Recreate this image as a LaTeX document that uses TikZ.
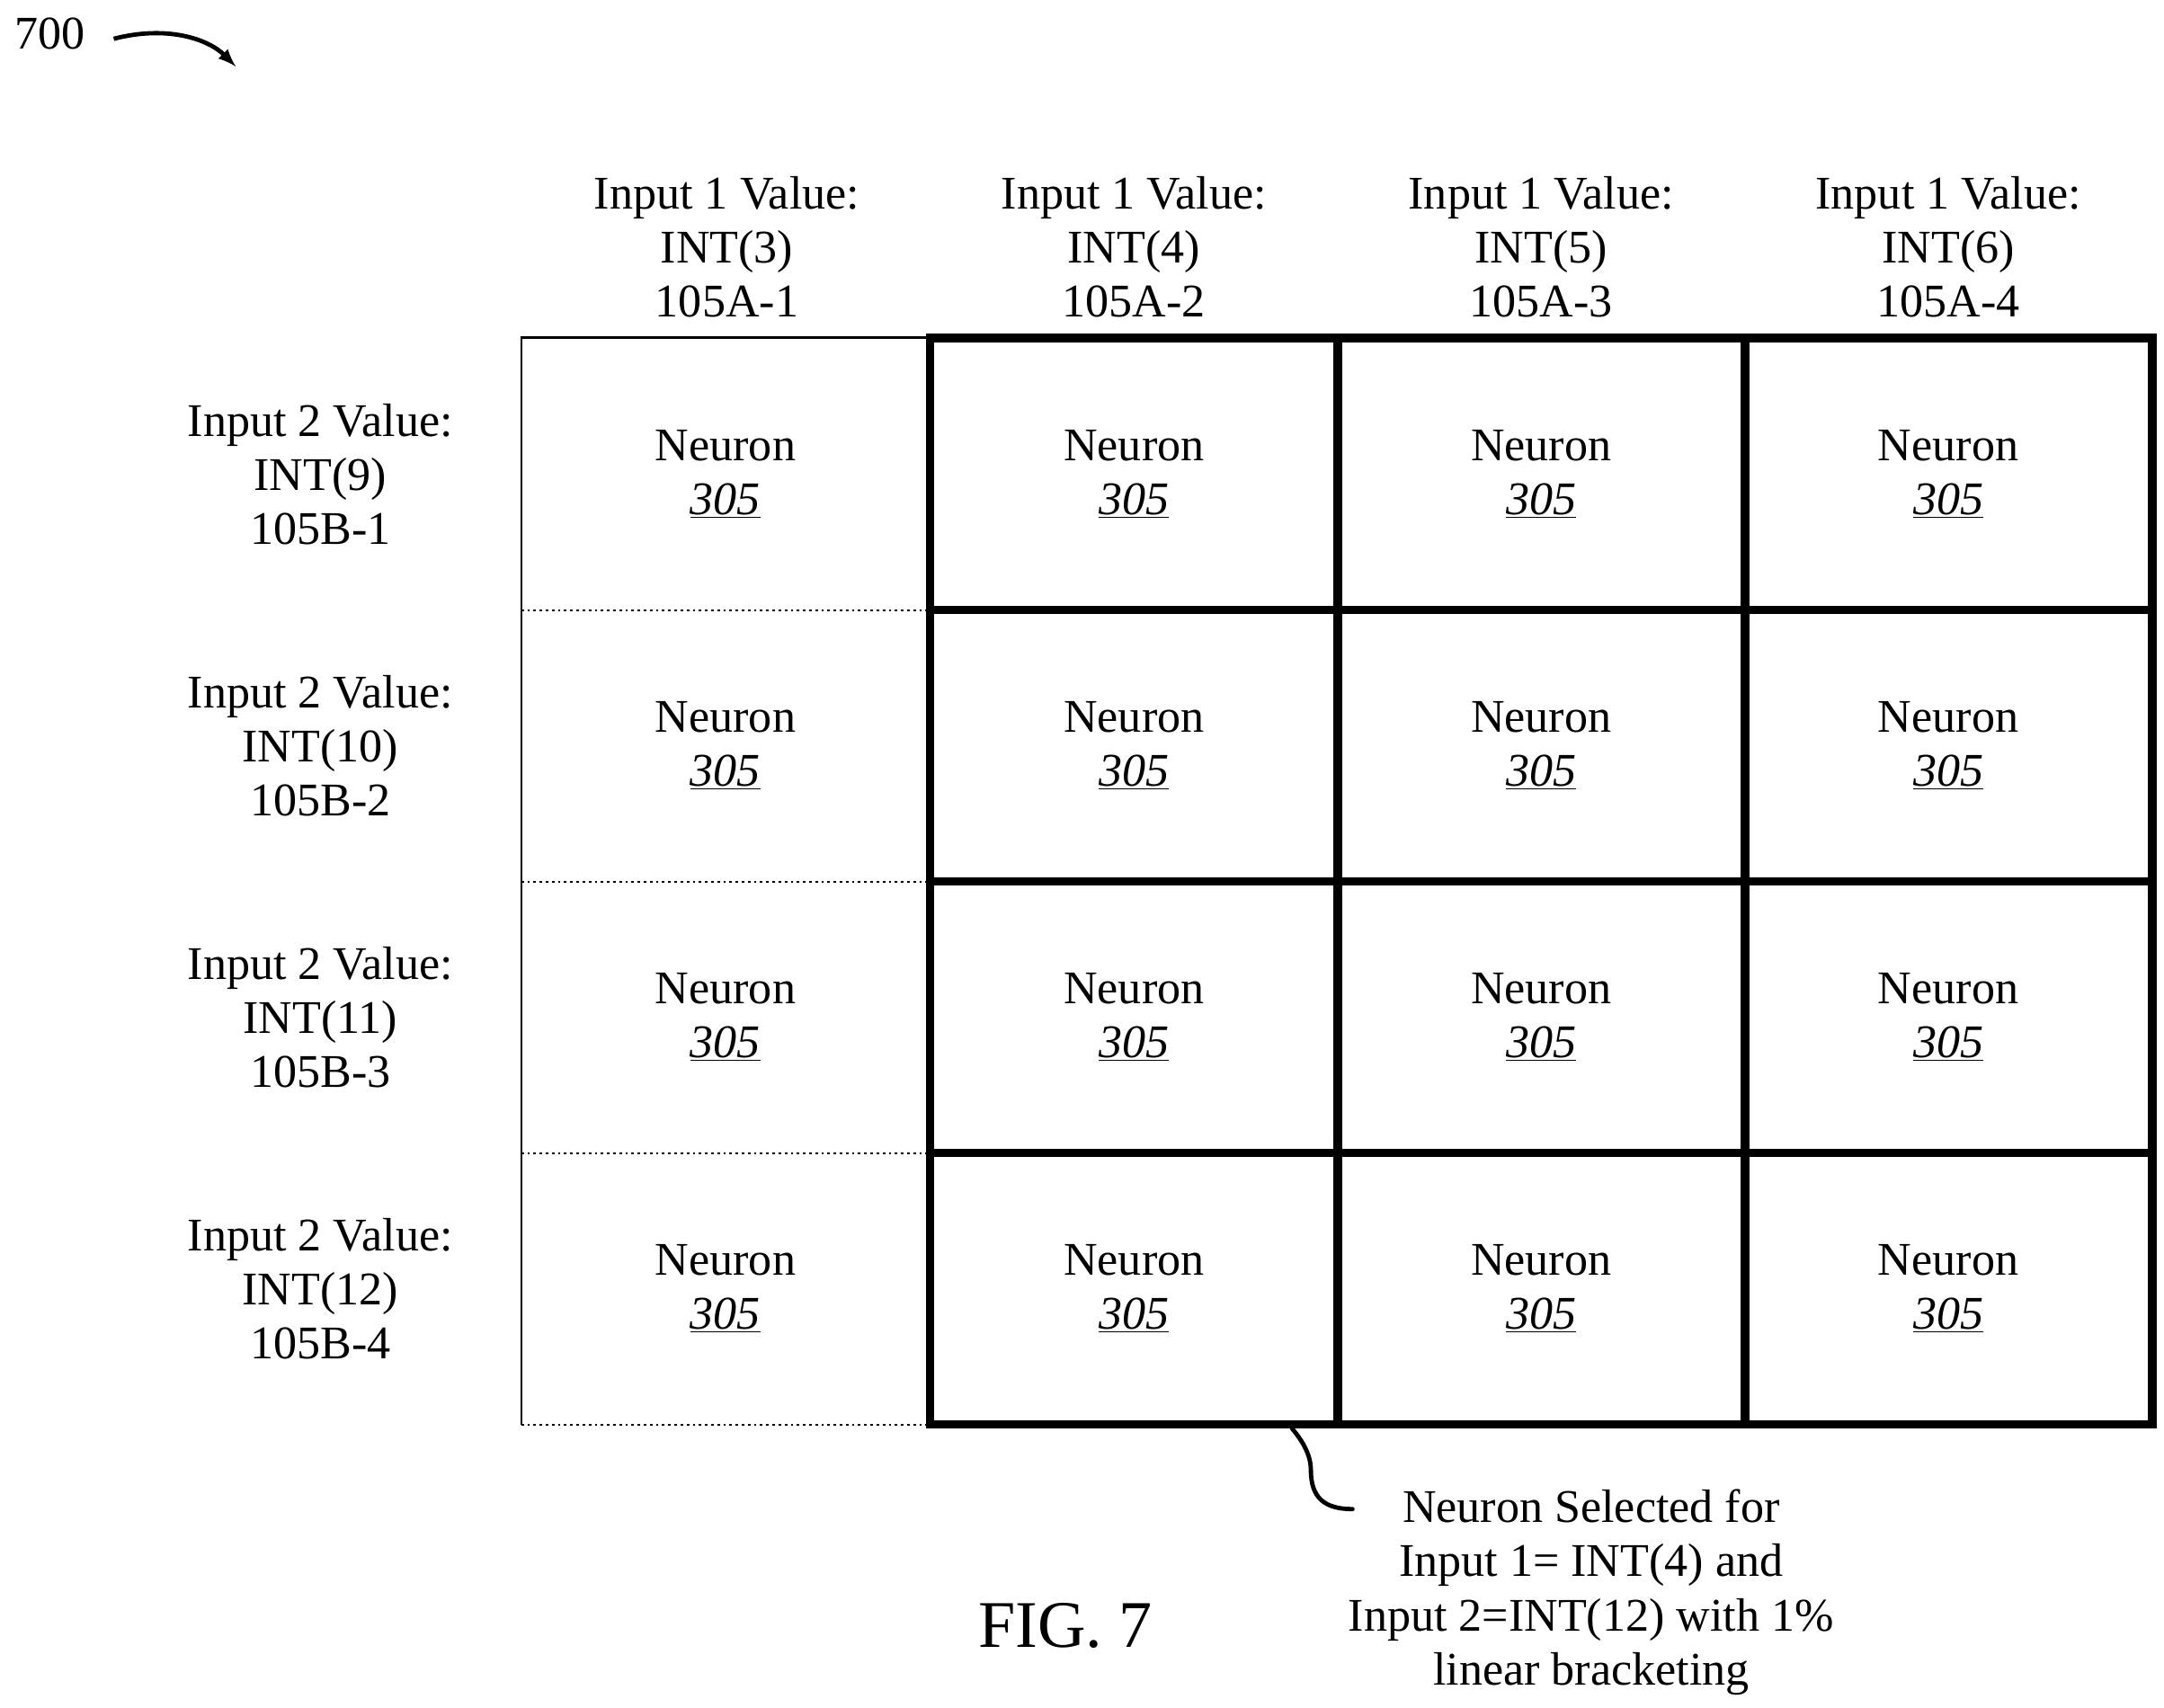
\documentclass[tikz,border=0pt]{standalone}
\usepackage{fontspec}
\setmainfont{Liberation Serif}
\usetikzlibrary{positioning}
\begin{document}
\begin{tikzpicture}[x=0.77pt,y=-0.77pt,
    lbl/.style={align=center, font=\fontsize{26}{30}\selectfont},
    cell/.style={lbl, minimum width=294*0.77pt, minimum height=196*0.77pt, inner sep=0pt},
    selcell/.style={cell, draw, line width=4.6pt},
    thin/.style={line width=1.2pt},
    dots/.style={line width=1.4pt, dotted}
  ]
  \useasboundingbox (0,0) rectangle (1560,1231);
  % title
  \node[lbl, anchor=center] (fignum) at (36,24) {700};
  \coordinate (arrowend) at (170,48);
  \draw[line width=2.4pt, -latex] (82,28) .. controls (120,18) and (150,28) .. (arrowend);
  % column headers
  \foreach \j/\v in {1/3,2/4,3/5,4/6}
    \node[lbl] (col\j) at (230.5+293.5*\j,178) {Input 1 Value:\\INT(\v)\\105A-\j};
  % row labels
  \foreach \i/\v in {1/9,2/10,3/11,4/12}
    \node[lbl] (row\i) at (231,146+195.75*\i) {Input 2 Value:\\INT(\v)\\105B-\i};
  % cells
  \foreach \i in {1,...,4}{
    \node[cell] (c\i-1) at (523,146+195.75*\i) {Neuron\\\underline{\textit{305}}};
    \foreach \j in {2,3,4}
      \node[selcell] (c\i-\j) at (230.5+293.5*\j,146+195.75*\i) {Neuron\\\underline{\textit{305}}};
  }
  % unselected column borders
  \draw[thin] (c1-1.north east) -- (c1-1.north west) -- (c4-1.south west);
  \foreach \i in {1,...,4}
    \draw[dots] (c\i-1.south west) -- (c\i-1.south east);
  % selection note
  \node[lbl] (note) at (1147,1148) {Neuron Selected for\\Input 1= INT(4) and\\Input 2=INT(12) with 1\%\\linear bracketing};
  \coordinate (hook) at (975,1088);
  \draw[line width=2.4pt, line cap=round] ([xshift=-36*0.77pt]c4-2.south east) .. controls (940,1040) and (945,1050) .. (945,1060) .. controls (945,1080) and (955,1088) .. (hook);
  \node[font=\fontsize{37}{40}\selectfont] (fig) at (768,1172) {FIG. 7};
\end{tikzpicture}
\end{document}
